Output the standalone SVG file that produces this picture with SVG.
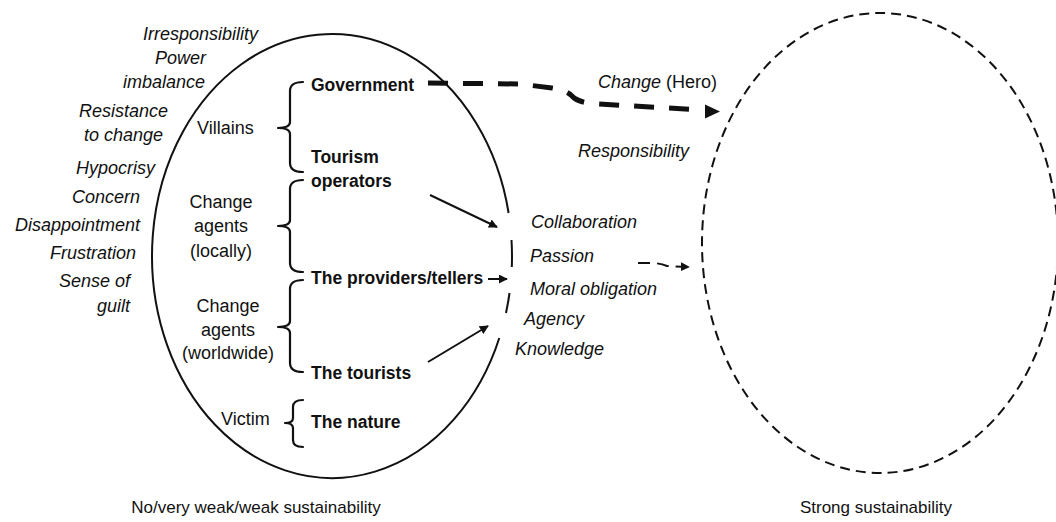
<svg xmlns="http://www.w3.org/2000/svg" width="1056" height="522" viewBox="0 0 1056 522">
  <style>
    text { font-family: "Liberation Sans", Arial, sans-serif; fill: #111; }
    .it { font-style: italic; font-size: 18px; }
    .rg { font-size: 18px; }
    .bd { font-weight: bold; font-size: 17.5px; }
    .cap { font-size: 17px; }
    .brace { fill: none; stroke: #111; stroke-width: 2.2; stroke-linejoin: round; stroke-linecap: round; }
    .line { fill: none; stroke: #111; stroke-width: 2; }
  </style>
  <defs>
    <marker id="head" viewBox="0 0 10 10" refX="9" refY="5" markerWidth="9" markerHeight="9" markerUnits="userSpaceOnUse" orient="auto">
      <path d="M0,0 L10,5 L0,10 z" fill="#111"/>
    </marker>
  </defs>

  <rect width="1056" height="522" fill="#fff"/>

  <!-- weak sustainability boundary (solid, interrupted by the value labels) -->
  <g id="weak-boundary">
    <path class="line" stroke-width="2.2" d="M499.3,338 A180,222 0 1 1 508.6,213"/>
    <path class="line" stroke-width="2.2" d="M511.5,240 A180,222 0 0 1 511.8,267"/>
    <path class="line" stroke-width="2.2" d="M509.5,293 A180,222 0 0 1 506,313"/>
  </g>

  <!-- strong sustainability boundary (dashed) -->
  <g id="strong-boundary">
    <ellipse cx="880" cy="243" rx="178" ry="230" fill="none" stroke="#111" stroke-width="2" stroke-dasharray="10 6"/>
  </g>

  <!-- emotions listed outside -->
  <g id="emotions" class="it" text-anchor="end">
    <text class="it" x="258" y="40">Irresponsibility</text>
    <text class="it" x="206" y="64">Power</text>
    <text class="it" x="205" y="88">imbalance</text>
    <text class="it" x="168" y="117">Resistance</text>
    <text class="it" x="163" y="141">to change</text>
    <text class="it" x="155" y="174">Hypocrisy</text>
    <text class="it" x="140" y="203">Concern</text>
    <text class="it" x="140" y="231">Disappointment</text>
    <text class="it" x="136" y="259">Frustration</text>
    <text class="it" x="130" y="287">Sense of</text>
    <text class="it" x="130" y="312">guilt</text>
  </g>

  <!-- roles -->
  <g id="villains">
    <text class="rg" x="197" y="134">Villains</text>
    <path class="brace" d="M303,82 Q290,82 290,91 V122 Q290,128 278,128 Q290,128 290,134 V163 Q290,172 303,172"/>
    <text class="bd" x="311" y="91">Government</text>
    <text class="bd" x="311" y="163">Tourism</text>
    <text class="bd" x="311" y="187">operators</text>
  </g>

  <g id="agents-local" text-anchor="middle">
    <text class="rg" x="221" y="208">Change</text>
    <text class="rg" x="221" y="232">agents</text>
    <text class="rg" x="221" y="257">(locally)</text>
    <path class="brace" d="M303,180 Q290,180 290,189 V220 Q290,226 278,226 Q290,226 290,232 V263 Q290,272 303,272"/>
  </g>

  <g id="providers">
    <text class="bd" x="311" y="284">The providers/tellers</text>
  </g>

  <g id="agents-worldwide" text-anchor="middle">
    <text class="rg" x="228" y="312">Change</text>
    <text class="rg" x="228" y="336">agents</text>
    <text class="rg" x="228" y="359">(worldwide)</text>
    <path class="brace" d="M303,280 Q290,280 290,289 V321 Q290,327 278,327 Q290,327 290,333 V363 Q290,372 303,372"/>
  </g>

  <g id="tourists">
    <text class="bd" x="311" y="379">The tourists</text>
  </g>

  <g id="victim">
    <text class="rg" x="221" y="425">Victim</text>
    <path class="brace" d="M303,400 Q293,400 293,407 V418 Q293,423 285,423 Q293,423 293,428 V440 Q293,447 303,447"/>
    <text class="bd" x="311" y="428">The nature</text>
  </g>

  <!-- values leading towards strong sustainability -->
  <g id="values">
    <text class="it" x="598" y="88">Change<tspan font-style="normal"> (Hero)</tspan></text>
    <text class="it" x="578" y="157">Responsibility</text>
    <text class="it" x="531" y="228">Collaboration</text>
    <text class="it" x="530" y="262">Passion</text>
    <text class="it" x="530" y="295">Moral obligation</text>
    <text class="it" x="524" y="325">Agency</text>
    <text class="it" x="515" y="355">Knowledge</text>
  </g>

  <!-- connectors -->
  <g id="connectors">
    <path d="M428,83 L520,84 L552,88 Q566,90 572,96 Q578,103 598,104 L704,110" fill="none" stroke="#111" stroke-width="5" stroke-dasharray="20 15"/>
    <path d="M705,104.5 L720,111.5 L705,118.5 z" fill="#111"/>
    <path d="M638,263 L651,263 Q660,263 667,266 L689,267" fill="none" stroke="#111" stroke-width="2" stroke-dasharray="12 7" marker-end="url(#head)"/>
    <line class="line" x1="430" y1="195" x2="497" y2="227" marker-end="url(#head)"/>
    <line class="line" x1="488" y1="279" x2="507" y2="279" marker-end="url(#head)"/>
    <line class="line" x1="428" y1="362" x2="488" y2="326" marker-end="url(#head)"/>
  </g>

  <!-- captions -->
  <g id="captions" text-anchor="middle">
    <text class="cap" x="256" y="513">No/very weak/weak sustainability</text>
    <text class="cap" x="876" y="513" font-size="18px">Strong sustainability</text>
  </g>
</svg>
